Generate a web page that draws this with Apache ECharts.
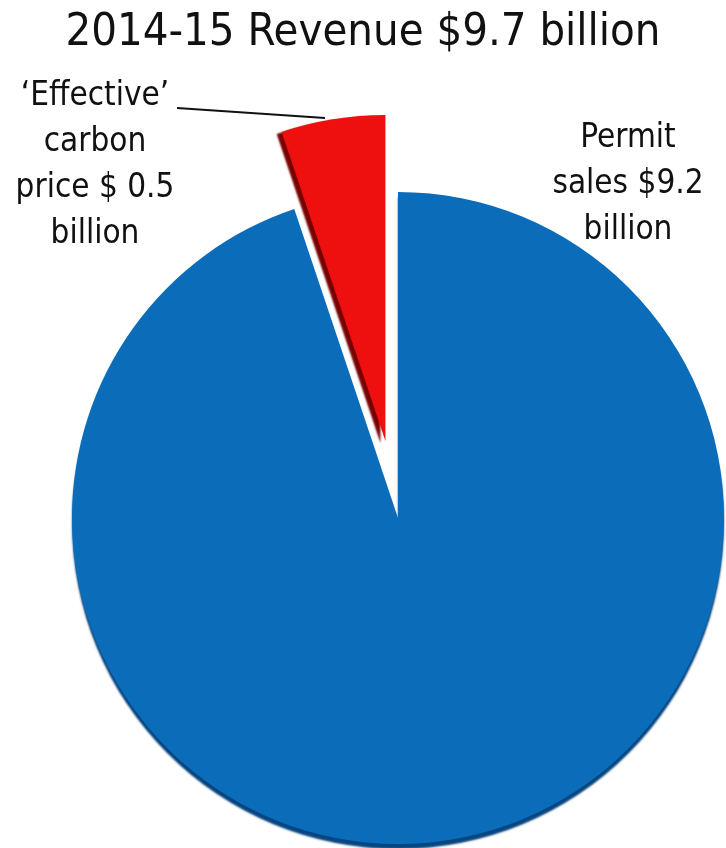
<!DOCTYPE html>
<html>
<head>
<meta charset="utf-8">
<script src="https://cdn.jsdelivr.net/npm/echarts@6/dist/echarts.min.js"></script>
<style>
  html, body { margin: 0; padding: 0; background: #fff; }
  #chart { width: 726px; height: 848px; }
</style>
</head>
<body>
<div id="chart"></div>
<script>
const titleText = "2014-15 Revenue $9.7 billion";
const names = ["Permit\nsales $9.2\nbillion", "\u2018Effective\u2019\ncarbon\nprice $ 0.5\nbillion"];
const values = [9.2, 0.5];
const colors = ["#0B6DB9", "#EE0F0F"];
const edgeColors = ["#06457F", "#7A0000"];
// edge (3d rim) offsets per slice
const edgeOffsets = [[0, 5], [-5, 2]];

const chart = echarts.init(document.getElementById("chart"));

const fontFamily = "'DejaVu Sans Condensed', 'Liberation Sans Narrow', sans-serif";

chart.setOption({
  backgroundColor: "#ffffff",
  title: {
    text: titleText,
    left: "center",
    top: 6,
    textStyle: {
      fontFamily: fontFamily,
      fontWeight: "normal",
      fontSize: 45,
      color: "#111111",
    },
  },
  graphic: [
    {
      type: "text",
      x: 95,
      y: 165,
      style: {
        text: names[1],
        fontFamily: fontFamily,
        fontSize: 33,
        lineHeight: 46,
        fill: "#111111",
        align: "center",
        verticalAlign: "middle",
      },
    },
    {
      type: "text",
      x: 628,
      y: 184,
      style: {
        text: names[0],
        fontFamily: fontFamily,
        fontSize: 33,
        lineHeight: 46,
        fill: "#111111",
        align: "center",
        verticalAlign: "middle",
      },
    },
    {
      // leader line from the label to the red slice
      type: "polyline",
      shape: { points: [[177, 108], [325, 118]] },
      style: { stroke: "#111111", lineWidth: 2 },
    },
  ],
  series: [
    {
      type: "pie",
      center: [398, 518],
      radius: 326,
      startAngle: 90,
      clockwise: true,
      selectedMode: "single",
      selectedOffset: 78,
      avoidLabelOverlap: false,
      animation: false,
      label: { show: false },
      labelLine: { show: false },
      data: values.map((v, i) => ({
        name: names[i],
        value: v,
        selected: i === 1,
        itemStyle: {
          color: colors[i],
          shadowColor: edgeColors[i],
          shadowBlur: 2,
          shadowOffsetX: edgeOffsets[i][0],
          shadowOffsetY: edgeOffsets[i][1],
        },
      })),
    },
  ],
});
</script>
</body>
</html>
